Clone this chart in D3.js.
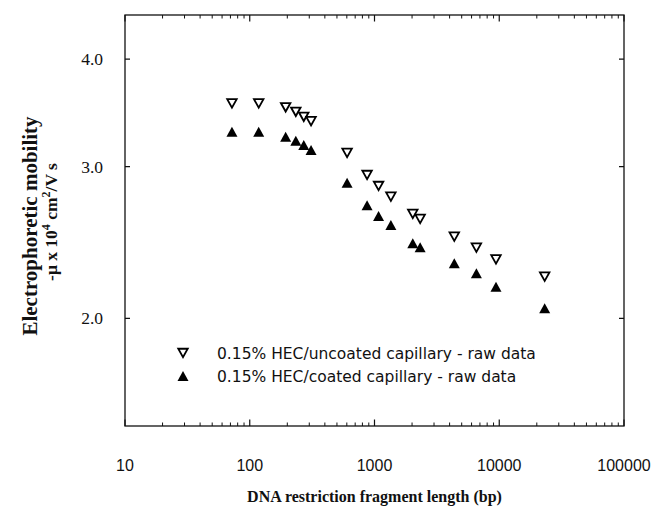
<!DOCTYPE html>
<html>
<head>
<meta charset="utf-8">
<script src="https://cdn.jsdelivr.net/npm/d3@7"></script>
<style>
  body { margin: 0; background: #fff; }
  svg { display: block; }
</style>
</head>
<body>
<div id="chart"></div>
<script>
// fragment sizes (bp): phiX174 HaeIII + lambda HindIII markers
const fragmentLength = [72, 118, 194, 234, 271, 310, 603, 872, 1078, 1353, 2027, 2322, 4361, 6557, 9416, 23130];
const uncoatedMobility = [3.553, 3.553, 3.516, 3.474, 3.428, 3.389, 3.113, 2.934, 2.849, 2.769, 2.644, 2.609, 2.488, 2.416, 2.342, 2.236];
const coatedMobility = [3.294, 3.294, 3.250, 3.216, 3.179, 3.136, 2.874, 2.707, 2.630, 2.567, 2.444, 2.418, 2.317, 2.256, 2.177, 2.055];
const xTickValues = [10, 100, 1000, 10000, 100000];
const yTickValues = [2.0, 3.0, 4.0];
const legendLabels = ['0.15% HEC/uncoated capillary - raw data', '0.15% HEC/coated capillary - raw data'];

const width = 658;
const height = 508;
const margin = { top: 15, right: 34, bottom: 82, left: 125 };

const svg = d3.select('#chart').append('svg')
  .attr('width', width)
  .attr('height', height);

const x = d3.scaleLog().domain([10, 100000]).range([margin.left, width - margin.right]);
const y = d3.scaleLog().domain([1.5, 4.5]).range([height - margin.bottom, margin.top]);

const x0 = x.range()[0], x1 = x.range()[1];
const y0 = y.range()[0], y1 = y.range()[1];

// minor ticks for the log axis
const minorTicks = [];
for (let d = 10; d < 100000; d *= 10) {
  for (let k = 2; k <= 9; k++) minorTicks.push(d * k);
}

const axes = svg.append('g').attr('stroke', '#111').attr('fill', 'none');

// frame
axes.append('rect')
  .attr('x', x0).attr('y', y1)
  .attr('width', x1 - x0).attr('height', y0 - y1)
  .attr('stroke-width', 1.3);

// x ticks, bottom and top, pointing inward
axes.selectAll('.xmin').data(minorTicks).join('path')
  .attr('stroke-width', 1)
  .attr('d', d => `M${x(d)},${y0}v-3.5M${x(d)},${y1}v3.5`);
axes.selectAll('.xmaj').data(xTickValues).join('path')
  .attr('stroke-width', 1.2)
  .attr('d', d => `M${x(d)},${y0}v-6.5M${x(d)},${y1}v6.5`);

// y ticks, left and right
axes.selectAll('.ymaj').data(yTickValues).join('path')
  .attr('stroke-width', 1.2)
  .attr('d', d => `M${x0},${y(d)}h5M${x1},${y(d)}h-5`);

// tick labels
svg.append('g').selectAll('text').data(xTickValues).join('text')
  .attr('x', d => x(d))
  .attr('y', 471)
  .attr('text-anchor', 'middle')
  .attr('font-family', 'Liberation Sans, Arial, sans-serif')
  .attr('font-size', 16)
  .attr('fill', '#111')
  .text(d => d);

svg.append('g').selectAll('text').data(yTickValues).join('text')
  .attr('x', 103)
  .attr('y', d => y(d) + 6)
  .attr('text-anchor', 'end')
  .attr('font-family', 'Liberation Serif, Times New Roman, serif')
  .attr('font-size', 17.5)
  .attr('fill', '#111')
  .text(d => d.toFixed(1));

// axis titles
svg.append('text')
  .attr('x', (x0 + x1) / 2)
  .attr('y', 502)
  .attr('text-anchor', 'middle')
  .attr('font-family', 'Liberation Serif, Times New Roman, serif')
  .attr('font-weight', 'bold')
  .attr('font-size', 16)
  .attr('fill', '#111')
  .text('DNA restriction fragment length (bp)');

const yTitle = svg.append('g')
  .attr('transform', 'translate(0,224) rotate(-90)')
  .attr('font-family', 'Liberation Serif, Times New Roman, serif')
  .attr('font-weight', 'bold')
  .attr('fill', '#111')
  .attr('text-anchor', 'middle');
yTitle.append('text').attr('x', -2).attr('y', 37).attr('font-size', 21)
  .text('Electrophoretic mobility');
const l2 = yTitle.append('text').attr('x', 2).attr('y', 57).attr('font-size', 17.5);
l2.append('tspan').text('-\u03bc x 10');
l2.append('tspan').attr('dy', -7).attr('font-size', 12).text('4');
l2.append('tspan').attr('dy', 7).text(' cm');
l2.append('tspan').attr('dy', -7).attr('font-size', 12).text('2');
l2.append('tspan').attr('dy', 7).text('/V s');

// marker shapes
const downTri = (w, h) => `M${-w / 2},${-h / 2}L${w / 2},${-h / 2}L0,${h / 2}Z`;
const upTri = (w, h) => `M0,${-h / 2}L${w / 2},${h / 2}L${-w / 2},${h / 2}Z`;

const pts = svg.append('g');
pts.selectAll('.open').data(fragmentLength).join('path')
  .attr('transform', (d, i) => `translate(${x(d)},${y(uncoatedMobility[i])})`)
  .attr('d', downTri(9.5, 8.5))
  .attr('fill', '#fff')
  .attr('stroke', '#000')
  .attr('stroke-width', 1.8)
  .attr('stroke-linejoin', 'miter');
pts.selectAll('.filled').data(fragmentLength).join('path')
  .attr('transform', (d, i) => `translate(${x(d)},${y(coatedMobility[i])})`)
  .attr('d', upTri(11, 10))
  .attr('fill', '#000');

// legend
const legend = svg.append('g');
legendLabels.forEach((label, i) => {
  const ly = 353 + i * 23;
  legend.append('path')
    .attr('transform', `translate(183,${ly})`)
    .attr('d', i === 0 ? downTri(9.5, 8.5) : upTri(11, 10))
    .attr('fill', i === 0 ? '#fff' : '#000')
    .attr('stroke', i === 0 ? '#000' : 'none')
    .attr('stroke-width', 1.8);
  legend.append('text')
    .attr('x', 217)
    .attr('y', ly + 5.5)
    .attr('font-family', 'DejaVu Sans, sans-serif')
    .attr('font-size', 15.5)
    .attr('fill', '#111')
    .text(label);
});
</script>
</body>
</html>
